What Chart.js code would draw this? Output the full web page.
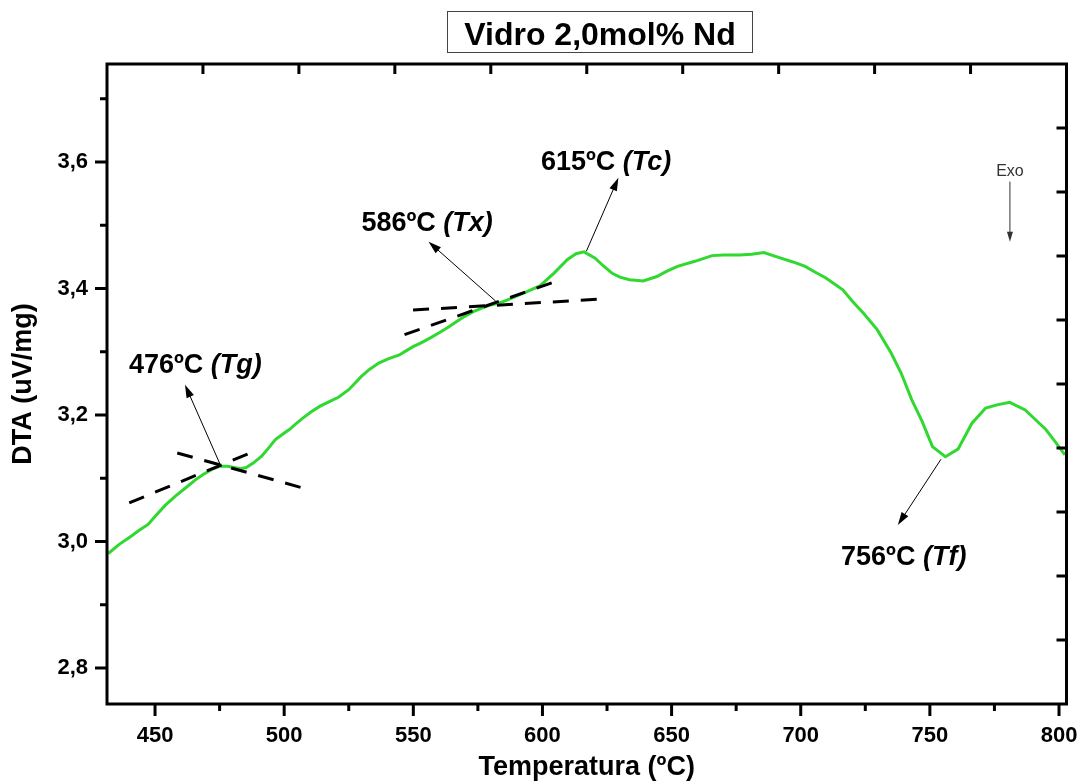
<!DOCTYPE html>
<html><head><meta charset="utf-8">
<script src="https://cdn.jsdelivr.net/npm/chart.js@4.4.1/dist/chart.umd.min.js"></script>
<style>html,body{margin:0;padding:0;background:#fff}canvas{display:block}</style>
</head><body>
<canvas id="c" width="1079" height="784"></canvas>
<script>
// ---- data ----
const temperature = [431.9,436,440.6,444,447.3,450.5,453.9,458,461.9,465.5,468.6,472,475.3,478,480.6,483,485.3,488,491.3,494,496.6,499.5,502,504.5,507.2,510.5,513.9,517.9,521,525,529.9,533,536.6,540.5,544.6,547,549.9,553,556.6,560,563.2,566.5,569.9,573,576.5,580,583.2,586.5,589.9,594,599,604.4,609.7,613,616.1,620.4,623.5,627,630,633.7,639,644.3,648,652.3,659,665.7,670,676.3,681,685.7,692.3,697,701.7,706,709.6,716.3,720,724.3,729.6,735,738.9,743,747,751,756,760.9,766.3,771.6,776,780.9,786.9,790,794.9,798.5,802.3];
const dta = [2.981,2.995,3.008,3.018,3.027,3.042,3.057,3.072,3.085,3.097,3.106,3.114,3.119,3.119,3.117,3.115,3.117,3.124,3.135,3.148,3.161,3.170,3.177,3.186,3.195,3.205,3.214,3.222,3.228,3.240,3.261,3.272,3.282,3.289,3.295,3.301,3.308,3.314,3.322,3.330,3.338,3.347,3.356,3.363,3.369,3.374,3.377,3.382,3.388,3.395,3.404,3.424,3.446,3.455,3.458,3.448,3.436,3.424,3.418,3.414,3.412,3.419,3.427,3.435,3.443,3.452,3.453,3.453,3.454,3.457,3.448,3.442,3.435,3.425,3.417,3.398,3.380,3.361,3.335,3.298,3.266,3.224,3.190,3.150,3.134,3.146,3.187,3.211,3.216,3.220,3.208,3.196,3.177,3.158,3.137];

const xTickValues = [450,500,550,600,650,700,750,800];
const xTickLabels = ['450','500','550','600','650','700','750','800'];
const xMinorTicks = [475,525,575,625,675,725,775];
const yTickValues = [2.8,3.0,3.2,3.4,3.6];
const yTickLabels = ['2,8','3,0','3,2','3,4','3,6'];
const yMinorTicks = [2.9,3.1,3.3,3.5,3.7];

// dashed tangent lines [[x0,y0],[x1,y1]]
const tgTangentA = [[440.0,3.061],[489.9,3.145]];
const tgTangentB = [[458.6,3.140],[508.6,3.083]];
const txTangentA = [[549.9,3.366],[621.7,3.383]];
const txTangentB = [[546.6,3.327],[607.1,3.414]];

// arrows [x0,y0,x1,y1] (tail -> head)
const arrowTg = [475.3,3.121,461.6,3.248];
const arrowTx = [581.9,3.380,555.9,3.474];
const arrowTc = [617.0,3.459,629.4,3.575];
const arrowTf = [754.3,3.130,737.6,3.026];
const arrowExo = [781.0,3.569,781.0,3.474];

// annotation labels: value text, symbol text, anchor (left, baseline)
const labelTexts = ['476ºC ','586ºC ','615ºC ','756ºC '];
const labelSymbols = ['(Tg)','(Tx)','(Tc)','(Tf)'];
const labelX = [439.9,529.9,599.4,715.6];
const labelY = [3.267,3.491,3.588,2.963];

const chartTitle = 'Vidro 2,0mol% Nd';
const F = "'Liberation Sans', Arial, Helvetica, sans-serif";

function drawArrow(ctx,x0,y0,x1,y1,len,w){
  const a=Math.atan2(y1-y0,x1-x0), c=Math.cos(a), s=Math.sin(a);
  ctx.beginPath(); ctx.moveTo(x0,y0); ctx.lineTo(x1-c*len*0.7,y1-s*len*0.7); ctx.stroke();
  ctx.beginPath(); ctx.moveTo(x1,y1);
  ctx.lineTo(x1-len*c+w*s, y1-len*s-w*c);
  ctx.lineTo(x1-len*c-w*s, y1-len*s+w*c);
  ctx.closePath(); ctx.fill();
}

const decor = {
  id:'decor',
  afterDraw(chart){
    const {ctx, chartArea:a, scales:{x,y}} = chart;
    ctx.save();
    ctx.strokeStyle='#000'; ctx.fillStyle='#000'; ctx.lineWidth=3; ctx.lineCap='butt';
    ctx.beginPath();
    xTickValues.forEach(v=>{const p=x.getPixelForValue(v); ctx.moveTo(p,a.bottom); ctx.lineTo(p,a.bottom+12);});
    xMinorTicks.forEach(v=>{const p=x.getPixelForValue(v); ctx.moveTo(p,a.bottom); ctx.lineTo(p,a.bottom+7);});
    yTickValues.forEach(v=>{const p=y.getPixelForValue(v); ctx.moveTo(a.left,p); ctx.lineTo(a.left-12,p);});
    yMinorTicks.forEach(v=>{const p=y.getPixelForValue(v); ctx.moveTo(a.left,p); ctx.lineTo(a.left-7,p);});
    const w=a.right-a.left, h=a.bottom-a.top;
    for(let k=1;k<10;k++){
      const px=a.left+w*k/10; ctx.moveTo(px,a.top); ctx.lineTo(px,a.top+10);
      const py=a.top+h*k/10; ctx.moveTo(a.right,py); ctx.lineTo(a.right-10,py);
    }
    ctx.stroke();
    ctx.strokeRect(a.left,a.top,w,h);

    // arrows
    ctx.lineWidth=1;
    [arrowTg,arrowTx,arrowTc,arrowTf].forEach(r=>{
      drawArrow(ctx,x.getPixelForValue(r[0]),y.getPixelForValue(r[1]),x.getPixelForValue(r[2]),y.getPixelForValue(r[3]),13,4);
    });
    ctx.strokeStyle='#333'; ctx.fillStyle='#333';
    drawArrow(ctx,x.getPixelForValue(arrowExo[0]),y.getPixelForValue(arrowExo[1]),x.getPixelForValue(arrowExo[2]),y.getPixelForValue(arrowExo[3]),10,3);
    ctx.font='16px '+F; ctx.textAlign='center'; ctx.textBaseline='alphabetic';
    ctx.fillText('Exo', x.getPixelForValue(arrowExo[0]), y.getPixelForValue(arrowExo[1])-6);

    // labels
    ctx.fillStyle='#000'; ctx.textAlign='left';
    labelTexts.forEach((t,i)=>{
      const px=x.getPixelForValue(labelX[i]), py=y.getPixelForValue(labelY[i]);
      ctx.font='bold 27px '+F; ctx.fillText(t,px,py);
      const tw=ctx.measureText(t).width;
      ctx.font='italic bold 27px '+F; ctx.fillText(labelSymbols[i],px+tw,py);
    });

    // title box
    ctx.font='bold 32px '+F; ctx.textAlign='center';
    ctx.fillText(chartTitle,600,45);
    ctx.lineWidth=1; ctx.strokeStyle='#444';
    ctx.strokeRect(447.5,11.5,305,41);
    ctx.restore();
  }
};

const tangents=[tgTangentA,tgTangentB,txTangentA,txTangentB];
new Chart(document.getElementById('c'),{
  type:'line',
  data:{datasets:[
    {data:temperature.map((t,i)=>({x:t,y:dta[i]})),borderColor:'#30d830',borderWidth:3,pointRadius:0,tension:0,order:2},
    ...tangents.map(t=>({data:t.map(p=>({x:p[0],y:p[1]})),borderColor:'#000',borderWidth:3,borderDash:[16,12],pointRadius:0,tension:0,order:1}))
  ]},
  options:{
    responsive:false, animation:false, devicePixelRatio:1,
    layout:{padding:{left:0,right:12.5,top:64,bottom:0}},
    plugins:{legend:{display:false},tooltip:{enabled:false},title:{display:false}},
    scales:{
      x:{type:'linear',min:431.4,max:802.9,
        grid:{display:false,drawTicks:false},border:{display:false},
        afterBuildTicks:s=>{s.ticks=xTickValues.map(v=>({value:v}));},
        afterFit:s=>{s.height=80;s.paddingLeft=0;s.paddingRight=0;},
        ticks:{autoSkip:false,maxRotation:0,padding:19,color:'#000',font:{family:F,size:22,weight:'bold'},
          callback:v=>xTickLabels[xTickValues.indexOf(v)]},
        title:{display:true,text:'Temperatura (ºC)',color:'#000',font:{family:F,size:27,weight:'bold'},padding:{top:0,bottom:0}}
      },
      y:{type:'linear',min:2.743,max:3.755,
        grid:{display:false,drawTicks:false},border:{display:false},
        afterBuildTicks:s=>{s.ticks=yTickValues.map(v=>({value:v}));},
        afterFit:s=>{s.width=107;s.paddingTop=0;s.paddingBottom=0;},
        ticks:{autoSkip:false,padding:19,color:'#000',font:{family:F,size:22,weight:'bold'},
          callback:v=>yTickLabels[yTickValues.indexOf(v)]},
        title:{display:true,text:'DTA (uV/mg)',color:'#000',font:{family:F,size:27,weight:'bold'},padding:{top:7,bottom:0}}
      }
    }
  },
  plugins:[decor]
});
</script>
</body></html>
